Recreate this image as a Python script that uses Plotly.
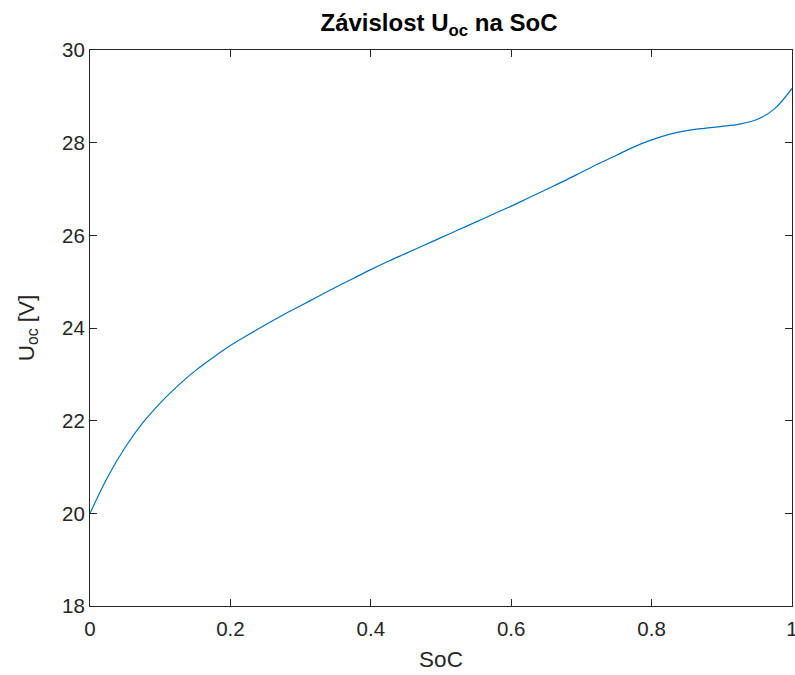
import plotly.graph_objects as go

soc = [0.0, 0.025, 0.05, 0.075, 0.1, 0.125, 0.15, 0.175, 0.2, 0.225, 0.25, 0.275,
       0.3, 0.325, 0.35, 0.375, 0.4, 0.425, 0.45, 0.475, 0.5, 0.525, 0.55, 0.575,
       0.6, 0.625, 0.65, 0.675, 0.7, 0.725, 0.75, 0.775, 0.8, 0.825, 0.85, 0.875,
       0.9, 0.925, 0.95, 0.975, 1.0]
uoc = [20.0, 20.78, 21.42, 21.95, 22.38, 22.75, 23.08, 23.36, 23.62, 23.85, 24.07, 24.28,
       24.48, 24.68, 24.88, 25.07, 25.26, 25.44, 25.61, 25.78, 25.95, 26.12, 26.29, 26.46,
       26.63, 26.81, 26.99, 27.17, 27.36, 27.55, 27.73, 27.91, 28.06, 28.18, 28.26, 28.31,
       28.35, 28.40, 28.50, 28.73, 29.17]

x_ticks = [0, 0.2, 0.4, 0.6, 0.8, 1]
x_tick_labels = ["0", "0.2", "0.4", "0.6", "0.8", "1"]
y_ticks = [18, 20, 22, 24, 26, 28, 30]

font_family = "Liberation Sans, Arial, sans-serif"
axis_col = "#262626"

fig = go.Figure()
fig.add_trace(go.Scatter(x=soc, y=uoc, mode="lines",
                         line=dict(color="#0072BD", width=1.2, shape="spline", smoothing=1.0),
                         showlegend=False))

axis_common = dict(showgrid=False, zeroline=False, showline=True, linecolor=axis_col,
                   linewidth=1, mirror="ticks", ticks="inside", ticklen=7, tickcolor=axis_col,
                   automargin=False, ticklabeloverflow="allow",
                   tickfont=dict(family=font_family, size=20.5, color=axis_col))

fig.update_layout(
    width=795, height=675,
    margin=dict(l=90, r=3, t=50, b=69, autoexpand=False),
    plot_bgcolor="white", paper_bgcolor="white",
    title=dict(text="<b>Závislost U<sub>oc</sub> na SoC</b>", x=0.5522, xanchor="center",
               y=0.9667, yanchor="middle",
               font=dict(family=font_family, size=24, color="black")),
    xaxis=dict(range=[0, 1], tickvals=x_ticks, ticktext=x_tick_labels, ticklabelstandoff=4,
               title=dict(text="SoC", font=dict(family=font_family, size=22.5, color=axis_col), standoff=12),
               **axis_common),
    yaxis=dict(range=[18, 30], tickvals=y_ticks,
               title=dict(text="U<sub>oc</sub> [V]", font=dict(family=font_family, size=22.5, color=axis_col), standoff=21),
               **axis_common),
)

fig.write_html("out.html", config={"displayModeBar": False},
               post_script="document.body.style.margin='0';document.body.style.overflow='hidden';")
